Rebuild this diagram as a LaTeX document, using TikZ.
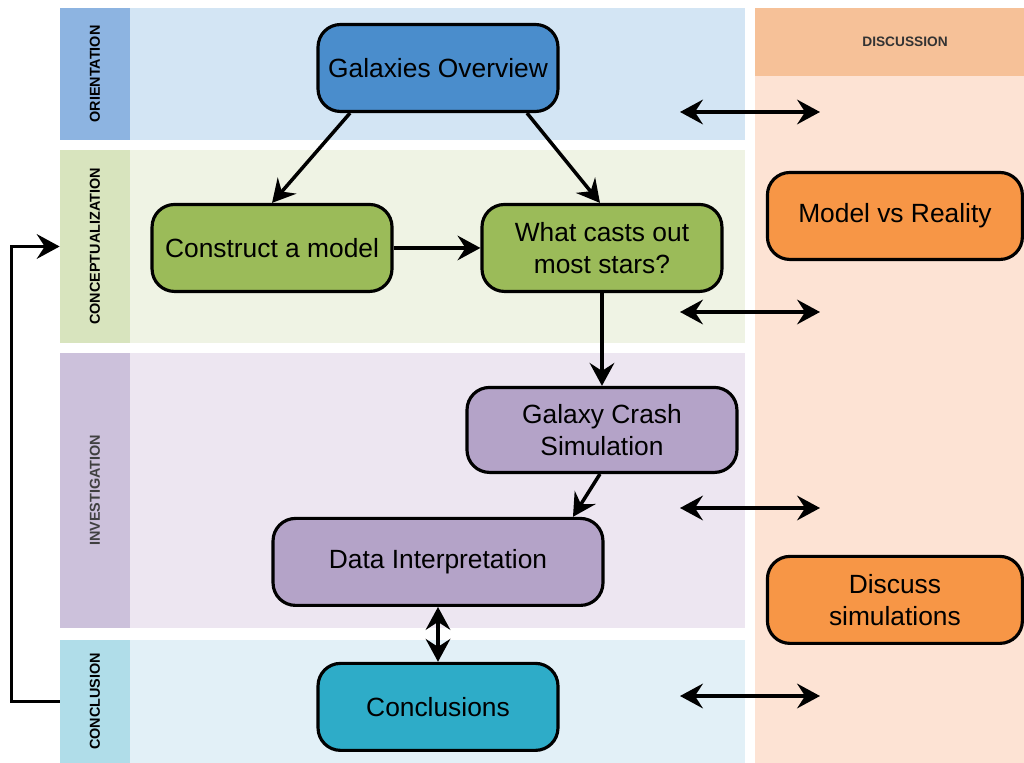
\documentclass[tikz,border=0pt]{standalone}
\usepackage{fontspec}
\setmainfont{Liberation Sans}
\usepackage{xcolor}
\usetikzlibrary{positioning}
\usetikzlibrary{arrows.meta}
\definecolor{oriDark}{HTML}{8DB4E1}
\definecolor{oriLight}{HTML}{D3E5F4}
\definecolor{conDark}{HTML}{D8E4BE}
\definecolor{conLight}{HTML}{EFF3E4}
\definecolor{invDark}{HTML}{CCC1DB}
\definecolor{invLight}{HTML}{EDE6F1}
\definecolor{cluDark}{HTML}{B0DDE9}
\definecolor{cluLight}{HTML}{E2F0F7}
\definecolor{disDark}{HTML}{F6C198}
\definecolor{disLight}{HTML}{FDE3D4}
\definecolor{oriFill}{HTML}{4A8DCC}
\definecolor{conFill}{HTML}{9BBB59}
\definecolor{invFill}{HTML}{B4A3C8}
\definecolor{cluFill}{HTML}{2EACC8}
\definecolor{disFill}{HTML}{F79646}
\tikzstyle{stage} = [rectangle, rounded corners=0.45cm, minimum width=4.8cm, minimum height=1.74cm, text centered, align=center, draw=black, line width=1.8pt, font=\fontsize{15}{18}\selectfont]
\tikzstyle{orient} = [stage, fill=oriFill]
\tikzstyle{concept} = [stage, fill=conFill]
\tikzstyle{invest} = [stage, fill=invFill]
\tikzstyle{conclude} = [stage, fill=cluFill]
\tikzstyle{discuss} = [stage, fill=disFill, minimum width=5.1cm]
\tikzstyle{bandlabel} = [rectangle, rotate=90, minimum height=1.4cm, inner sep=0pt, font=\fontsize{8.2}{10}\selectfont\bfseries]
\tikzstyle{arrow} = [line width=2pt,->,>={Stealth[length=13pt,width=14pt,inset=4.5pt]}]
\tikzstyle{dblarrow} = [arrow,<->]

\begin{document}
\begin{tikzpicture}[x=0.02cm, y=-0.02cm, node distance=2cm]
        \useasboundingbox (0,0) rectangle (1024,763);

        \fill [oriLight] (130,8) rectangle (745,140);
        \fill [conLight] (130,150) rectangle (745,343);
        \fill [invLight] (130,353) rectangle (745,628);
        \fill [cluLight] (130,640) rectangle (745,763);
        \fill [disLight] (755,8) rectangle (1024,763);
        \fill [disDark] (755,8) rectangle (1024,76);

        \node (orilab) [bandlabel, fill=oriDark, minimum width=2.64cm] at (95,74) {ORIENTATION};
        \node (conlab) [bandlabel, fill=conDark, minimum width=3.86cm] at (95,246.5) {CONCEPTUALIZATION};
        \node (invlab) [bandlabel, fill=invDark, minimum width=5.5cm, text=black!75] at (95,490.5) {INVESTIGATION};
        \node (clulab) [bandlabel, fill=cluDark, minimum width=2.46cm] at (95,701.5) {CONCLUSION};
        \node (dislab) [text=black!80, font=\fontsize{7.8}{9}\selectfont\bfseries] at (905,42) {DISCUSSION};

        \node (overview) [orient] at (438,68) {Galaxies Overview};
        \node (model) [concept, below of=overview, yshift=-1.6cm, xshift=-3.32cm] {Construct a model};
        \node (question) [concept, right of=model, xshift=4.6cm] {What casts out\\most stars?};
        \node (crash) [invest, below of=question, yshift=-1.64cm, minimum width=5.4cm, minimum height=1.7cm] {Galaxy Crash\\Simulation};
        \node (interp) [invest, below of=crash, yshift=-0.64cm, xshift=-3.28cm, minimum width=6.6cm] {Data Interpretation};
        \node (results) [conclude, below of=interp, yshift=-0.9cm] {Conclusions};
        \node (reality) [discuss, right of=question, xshift=3.86cm, yshift=0.64cm] {Model vs Reality};
        \node (simtalk) [discuss, right of=interp, xshift=7.14cm, yshift=-0.76cm] {Discuss\\simulations};

        \draw [arrow] ([xshift=-1.76cm]overview.south) -- (model.north);
        \draw [arrow] ([xshift=1.78cm]overview.south) -- ([xshift=-0.04cm]question.north);
        \draw [arrow] (model) -- (question);
        \draw [arrow] (question) -- (crash);
        \draw [arrow] ([xshift=-0.04cm]crash.south) -- ([xshift=2.7cm]interp.north);
        \draw [dblarrow] (interp.south) -- (results.north);
        \draw [arrow] (clulab.north) -- ++(-48,0) |- (conlab.north);

        \foreach \y [count=\i] in {112,312,508,696} {
            \coordinate (left\i) at (680,\y);
            \coordinate (right\i) at (820,\y);
            \draw [dblarrow] (left\i) -- (right\i);
        }
    \end{tikzpicture}
\end{document}
